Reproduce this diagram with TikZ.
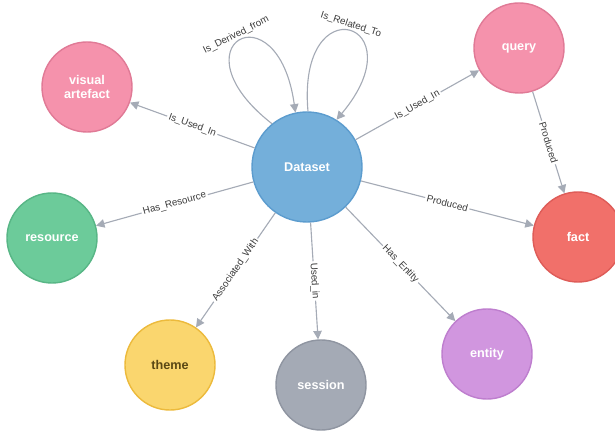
\documentclass[tikz,border=0pt]{standalone}
\usepackage{fontspec}
\setmainfont{Liberation Sans}
\usetikzlibrary{arrows.meta}
\definecolor{dsfill}{RGB}{116,175,218}
\definecolor{dsline}{RGB}{92,156,206}
\definecolor{pkfill}{RGB}{245,146,172}
\definecolor{pkline}{RGB}{224,122,150}
\definecolor{rdfill}{RGB}{241,112,106}
\definecolor{rdline}{RGB}{222,92,88}
\definecolor{grfill}{RGB}{108,203,154}
\definecolor{grline}{RGB}{88,182,134}
\definecolor{ylfill}{RGB}{250,214,110}
\definecolor{ylline}{RGB}{236,186,60}
\definecolor{yltext}{RGB}{90,72,20}
\definecolor{gyfill}{RGB}{164,170,181}
\definecolor{gyline}{RGB}{143,149,161}
\definecolor{ptfill}{RGB}{209,150,223}
\definecolor{ptline}{RGB}{190,126,206}
\definecolor{edgegrey}{RGB}{165,171,182}
\definecolor{lblgrey}{RGB}{60,60,60}
\tikzset{
  nd/.style={circle,draw,line width=1pt,minimum size=2.25cm,inner sep=0pt,
    text=white,align=center,font=\fontsize{9}{10}\selectfont\bfseries},
  rel/.style={draw=edgegrey,line width=0.8pt,-{Triangle[length=6pt,width=6pt]}},
  lbl/.style={midway,sloped,fill=white,inner sep=1.2pt,text=lblgrey,
    font=\fontsize{7}{8}\selectfont},
  looplbl/.style={pos=.5,above,inner sep=1pt,text=lblgrey,
    font=\fontsize{7}{8}\selectfont}
}
\begin{document}
\begin{tikzpicture}[x=0.025cm,y=0.025cm]
    \useasboundingbox (0,0) rectangle (615,432);
    \node[nd,fill=dsfill,draw=dsline,minimum size=2.75cm] (D) at (307,265) {Dataset};
    \node[nd,fill=pkfill,draw=pkline] (V) at (87,345) {visual\\artefact};
    \node[nd,fill=pkfill,draw=pkline] (Q) at (519,384) {query};
    \node[nd,fill=rdfill,draw=rdline] (F) at (578,195) {fact};
    \node[nd,fill=grfill,draw=grline] (R) at (52,194) {resource};
    \node[nd,fill=ylfill,draw=ylline,text=yltext] (T) at (170,67) {theme};
    \node[nd,fill=gyfill,draw=gyline] (S) at (321,47) {session};
    \node[nd,fill=ptfill,draw=ptline] (E) at (487,78) {entity};
    \draw[rel] (D) -- node[lbl]{Is\_Used\_In} (V);
    \draw[rel] (D) -- node[lbl]{Is\_Used\_In} (Q);
    \draw[rel] (Q) -- node[lbl]{Produced} (F);
    \draw[rel] (D) -- node[lbl]{Produced} (F);
    \draw[rel] (D) -- node[lbl]{Has\_Resource} (R);
    \draw[rel] (D) -- node[lbl]{Associated\_With} (T);
    \draw[rel] (D) -- node[lbl]{Used\_in} (S);
    \draw[rel] (D) -- node[lbl]{Has\_Entity} (E);
    \draw[rel] (D.129) to[out=142,in=98,distance=3.2cm]
        node[looplbl,rotate=27]{Is\_Derived\_from} (D.102);
    \draw[rel] (D.89) to[out=95,in=50,distance=3.2cm]
        node[looplbl,rotate=-18]{Is\_Related\_To} (D.58);
\end{tikzpicture}
\end{document}
